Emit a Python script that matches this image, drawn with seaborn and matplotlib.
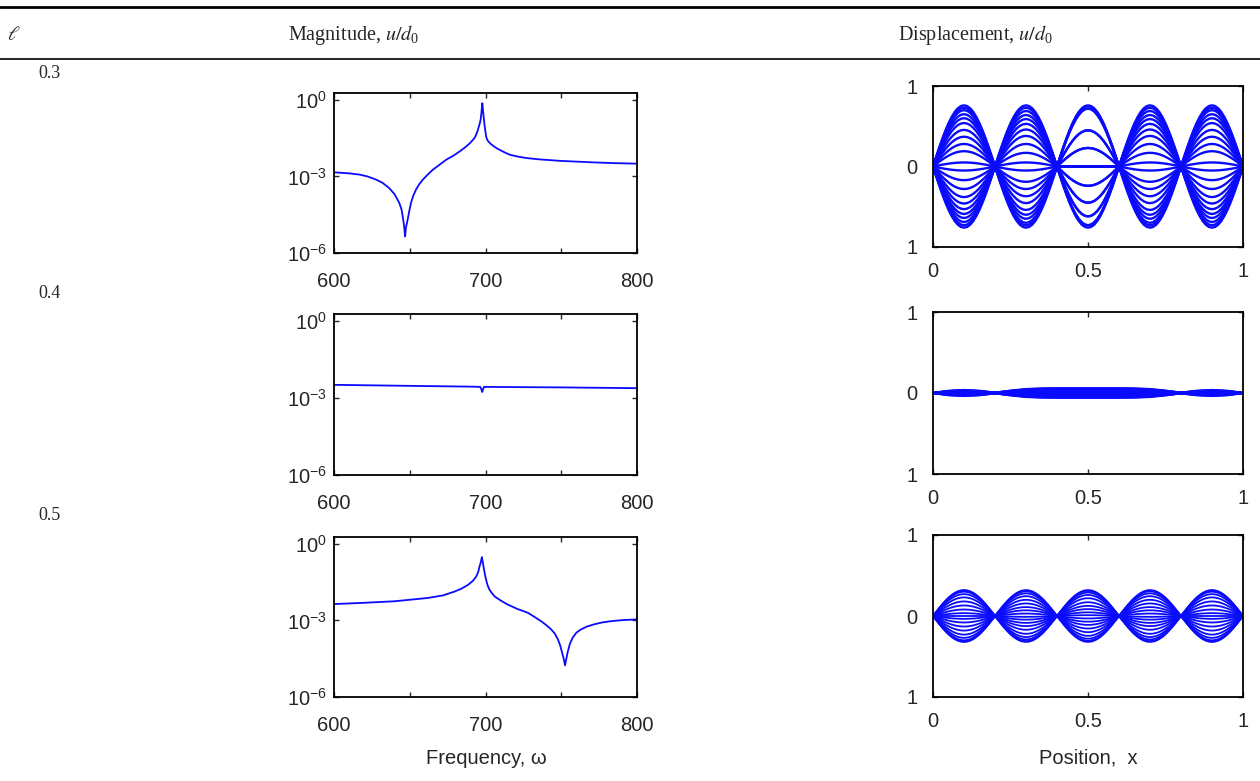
import numpy as np
import pandas as pd
import matplotlib
matplotlib.use("Agg")
import matplotlib.pyplot as plt
from matplotlib.lines import Line2D
import seaborn as sns

# ---------------- data ----------------
row_labels = ["0.3", "0.4", "0.5"]

# magnitude curves (frequency, log10 |u/d0|)
freq_1 = [600, 610, 617, 622, 628, 632, 636.5, 640, 643.1, 644.6, 645.7, 646.4, 646.9, 647.5,
          648.6, 649.7, 650.8, 652.3, 654.1, 656.2, 658.6, 661.5, 665.2, 669.5, 674, 679, 683,
          687, 689.5, 691.7, 693, 694, 695, 696, 696.8, 697.4, 697.9, 698.4, 699.0, 699.6,
          700.4, 701, 702, 703.5, 705, 707.5, 710, 713, 716, 721, 727, 735, 749, 760, 771, 785, 800]
logmag_1 = [-2.84, -2.88, -2.93, -3.00, -3.13, -3.25, -3.46, -3.70, -4.04, -4.30, -4.70, -5.00,
            -5.35, -5.00, -4.70, -4.35, -4.04, -3.76, -3.52, -3.31, -3.13, -2.95, -2.74, -2.55,
            -2.35, -2.18, -2.02, -1.84, -1.71, -1.57, -1.47, -1.34, -1.17, -0.97, -0.78, -0.45,
            -0.13, -0.45, -0.78, -1.10, -1.43, -1.55, -1.64, -1.73, -1.80, -1.90, -1.98, -2.07,
            -2.15, -2.22, -2.28, -2.33, -2.39, -2.42, -2.45, -2.48, -2.50]

freq_2 = [600, 650, 690, 696.5, 697.4, 697.8, 698.3, 699, 750, 800]
logmag_2 = [-2.49, -2.53, -2.56, -2.57, -2.68, -2.77, -2.68, -2.57, -2.59, -2.62]

freq_3 = [600, 620, 640, 662, 672, 679.6, 684, 688.4, 691.5, 693.8, 695.2, 696, 697, 697.6,
          698.2, 698.9, 699.8, 700.7, 701.5, 702.5, 703.8, 706, 710, 714.7, 721, 727.9, 732,
          736.7, 740, 743.3, 745.8, 747.7, 749.3, 750.5, 751.7, 752.5, 753.3, 754.2, 755.7,
          757.6, 760, 763.1, 767, 771.9, 777, 782.9, 790, 800]
logmag_3 = [-2.36, -2.31, -2.25, -2.12, -2.02, -1.87, -1.76, -1.61, -1.46, -1.29, -1.10, -0.90,
            -0.70, -0.52, -0.72, -0.97, -1.25, -1.48, -1.64, -1.78, -1.90, -2.06, -2.22, -2.38,
            -2.55, -2.70, -2.85, -3.03, -3.18, -3.35, -3.52, -3.73, -3.98, -4.25, -4.52, -4.76,
            -4.52, -4.25, -3.92, -3.67, -3.48, -3.35, -3.24, -3.15, -3.08, -3.03, -2.99, -2.96]

mag_freqs = [freq_1, freq_2, freq_3]
mag_logs = [logmag_1, logmag_2, logmag_3]

# displacement snapshots: one half-wave hump shape, amplitudes per hump
hump_local = [0.0, 0.05, 0.1, 0.15, 0.2, 0.25, 0.3, 0.35, 0.4, 0.45, 0.5,
              0.55, 0.6, 0.65, 0.7, 0.75, 0.8, 0.85, 0.9, 0.95, 1.0]
hump_profile = [0.0, 0.1564, 0.3090, 0.4540, 0.5878, 0.7071, 0.8090, 0.8910, 0.9511, 0.9877, 1.0,
                0.9877, 0.9511, 0.8910, 0.8090, 0.7071, 0.5878, 0.4540, 0.3090, 0.1564, 0.0]

r1_outer = [0.76, 0.73, 0.70, 0.65, 0.60, 0.54, 0.455, 0.37, 0.28, 0.19, 0.05,
            -0.05, -0.17, -0.28, -0.38, -0.46, -0.53, -0.59, -0.64, -0.69, -0.73, -0.76]
r1_middle = [0.76, 0.75, 0.72, 0.72, 0.45, 0.45, 0.23, 0.23, 0.0, 0.0, 0.0,
             0.0, 0.0, -0.24, -0.24, -0.45, -0.45, -0.62, -0.62, -0.73, -0.73, -0.76]

r3_outer = [0.32, 0.315, 0.30, 0.27, 0.23, 0.18, 0.13, 0.08, 0.035, 0.0,
            -0.035, -0.08, -0.13, -0.18, -0.23, -0.27, -0.30, -0.315, -0.32]
r3_inner = [0.32, 0.31, 0.29, 0.26, 0.22, 0.17, 0.125, 0.085, 0.045, 0.01,
            -0.03, -0.07, -0.11, -0.155, -0.20, -0.245, -0.28, -0.305, -0.32]

# row 2: envelope over the whole beam, scaled by snapshot factors
env2_x = [0, 0.05, 0.1, 0.15, 0.2, 0.25, 0.3, 0.35, 0.4, 0.45, 0.5,
          0.55, 0.6, 0.65, 0.7, 0.75, 0.8, 0.85, 0.9, 0.95, 1.0]
env2 = [0, 0.026, 0.036, 0.026, 0.003, 0.028, 0.048, 0.056, 0.058, 0.058, 0.058,
        0.058, 0.058, 0.056, 0.048, 0.028, 0.003, 0.026, 0.036, 0.026, 0]
r2_factors = [1.0, 0.92, 0.8, 0.62, 0.4, 0.15, -0.15, -0.4, -0.62, -0.8, -0.92, -1.0]

# ---------------- build tables ----------------
def hump_table(hump_amps):
    rows = []
    nlines = len(hump_amps[0])
    for k in range(nlines):
        for j, amps in enumerate(hump_amps):
            sign = 1 if j % 2 == 0 else -1
            for xl, p in zip(hump_local, hump_profile):
                rows.append({"line": k, "x": (j + xl) / 5.0, "u": sign * amps[k] * p})
    return pd.DataFrame(rows)

disp1 = hump_table([r1_outer, r1_outer, r1_middle, r1_outer, r1_outer])
disp3 = hump_table([r3_outer, r3_inner, r3_inner, r3_inner, r3_outer])
disp2 = pd.DataFrame([{"line": k, "x": xv, "u": f * ev}
                      for k, f in enumerate(r2_factors) for xv, ev in zip(env2_x, env2)])
disp_tables = [disp1, disp2, disp3]
disp_lw = [1.7, 1.7, 1.3]

# ---------------- style ----------------
sns.set_style("white")
plt.rcParams["font.family"] = ["Liberation Sans", "DejaVu Sans"]
plt.rcParams["mathtext.fontset"] = "custom"
plt.rcParams["mathtext.rm"] = "Liberation Sans"
plt.rcParams["mathtext.it"] = "Liberation Sans:italic"
plt.rcParams["mathtext.default"] = "regular"
plt.rcParams.update({
    "xtick.direction": "in", "ytick.direction": "in",
    "xtick.top": True, "ytick.right": True,
    "xtick.bottom": True, "ytick.left": True,
    "xtick.major.size": 3.5, "ytick.major.size": 3.5,
    "xtick.major.width": 1.0, "ytick.major.width": 1.0,
    "axes.edgecolor": "black", "axes.linewidth": 1.3,
})

BLUE = "#0a0aff"
W, H = 1260, 781
fig = plt.figure(figsize=(12.6, 7.81), dpi=100)

def fx(px):
    return px / W

def fy(py):
    return 1 - py / H

mag_boxes = [(334, 93, 637, 253), (334, 314, 637, 475), (334, 537, 637, 697)]
disp_boxes = [(933, 86, 1243, 247), (933, 312, 1243, 474), (933, 535, 1243, 697)]

TICK_FS = 14.5
for i in range(3):
    l, t, r, b = mag_boxes[i]
    ax = fig.add_axes([fx(l), fy(b), fx(r - l), (b - t) / H])
    df = pd.DataFrame({"freq": mag_freqs[i], "mag": [10.0 ** v for v in mag_logs[i]]})
    sns.lineplot(data=df, x="freq", y="mag", ax=ax, color=BLUE, linewidth=1.3,
                 sort=False, estimator=None)
    ax.set_yscale("log")
    ax.set_xlim(600, 800)
    ax.set_ylim(1e-6, 1.85)
    ax.set_xticks([600, 650, 700, 750, 800])
    ax.set_xticklabels(["600", "", "700", "", "800"], fontsize=TICK_FS)
    ax.set_yticks([1e0, 1e-3, 1e-6])
    ax.set_yticklabels(["10$^{0}$", "10$^{-3}$", "10$^{-6}$"], fontsize=TICK_FS)
    ax.minorticks_off()
    ax.tick_params(axis="x", pad=14)
    ax.tick_params(axis="y", pad=5)
    ax.set_xlabel("")
    ax.set_ylabel("")

    l, t, r, b = disp_boxes[i]
    ax2 = fig.add_axes([fx(l), fy(b), fx(r - l), (b - t) / H])
    sns.lineplot(data=disp_tables[i], x="x", y="u", units="line", estimator=None,
                 sort=False, ax=ax2, color=BLUE, linewidth=disp_lw[i])
    ax2.set_xlim(0, 1)
    ax2.set_ylim(-1, 1)
    ax2.set_xticks([0, 0.5, 1])
    ax2.set_xticklabels(["0", "0.5", "1"], fontsize=TICK_FS)
    ax2.set_yticks([-1, 0, 1])
    ax2.set_yticklabels(["1", "0", "1"], fontsize=TICK_FS)
    ax2.tick_params(axis="x", pad=11)
    ax2.tick_params(axis="y", pad=11)
    ax2.set_xlabel("")
    ax2.set_ylabel("")

# header rules
fig.add_artist(Line2D([0, 1], [fy(7), fy(7)], transform=fig.transFigure, color="black", linewidth=2.0))
fig.add_artist(Line2D([0, 1], [fy(59), fy(59)], transform=fig.transFigure, color="black", linewidth=1.2))

SERIF = ["Liberation Serif", "DejaVu Serif"]
HDR_FS = 14.5
fig.text(fx(7), fy(35), r"$\mathit{\ell}$", family=SERIF, fontsize=HDR_FS, ha="left", va="center",
         math_fontfamily="stix")
fig.text(fx(288), fy(35), r"Magnitude, $\mathit{u/d}_0$", family=SERIF, fontsize=HDR_FS, ha="left",
         va="center", math_fontfamily="stix")
fig.text(fx(898), fy(35), r"Displacement, $\mathit{u/d}_0$", family=SERIF, fontsize=HDR_FS, ha="left",
         va="center", math_fontfamily="stix")
for lab, yy in zip(row_labels, [73, 294, 516]):
    fig.text(fx(38), fy(yy), lab, family=SERIF, fontsize=13, ha="left", va="center")

fig.text(fx(486), fy(758), "Frequency, ω", fontsize=TICK_FS, ha="center", va="center")
fig.text(fx(1088), fy(758), "Position,  x", fontsize=TICK_FS, ha="center", va="center")

fig.savefig("out.png", dpi=100)
